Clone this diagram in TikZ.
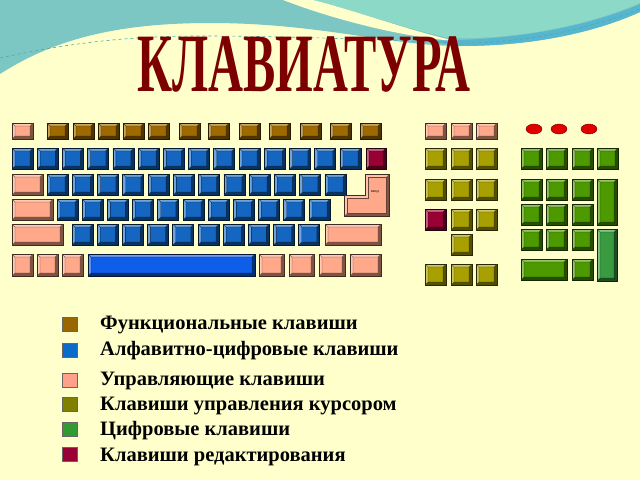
\documentclass[tikz,border=0pt]{standalone}
\usepackage{fontspec}
\setmainfont{Liberation Serif}
\usetikzlibrary{calc}
\definecolor{bgcream}{HTML}{FFFFCC}
\definecolor{tealA}{HTML}{7CC6C4}
\definecolor{tealB}{HTML}{8DD9C8}
\definecolor{bandcol}{HTML}{56B6CE}
\definecolor{dashcol}{HTML}{4FA6B0}
\definecolor{titlered}{HTML}{7D0000}
\definecolor{fncol}{HTML}{9E6A00}
\definecolor{alnum}{HTML}{1566C0}
\definecolor{spacecol}{HTML}{0E5EEA}
\definecolor{ctrl}{HTML}{FFA98A}
\definecolor{curs}{HTML}{A8A000}
\definecolor{numcol}{HTML}{4C9A00}
\definecolor{nument}{HTML}{3A9A40}
\definecolor{editcol}{HTML}{990033}
\definecolor{ledred}{HTML}{E00000}
\definecolor{lgbrown}{HTML}{996600}
\definecolor{lgblue}{HTML}{0A6CC8}
\definecolor{lgpink}{HTML}{FFA08A}
\definecolor{lgolive}{HTML}{808000}
\definecolor{lggreen}{HTML}{339933}
\definecolor{lgred}{HTML}{990033}
\newcommand\kbk[5]{%
\fill[#5!50!black] (#1,#2) rectangle (#3,#4);
\fill[#5!60!white] (#1,#2) -- (#3,#2) -- (#3-3,#2+3) -- (#1+3,#2+3) -- (#1+3,#4-3) -- (#1,#4) -- cycle;
\fill[#5] (#1+3,#2+3) rectangle (#3-3,#4-3);
\draw[#5!25!black, line width=0.7] (#1,#2) rectangle (#3,#4);
\draw[#5!40!black, line width=0.35] (#1+3,#2+3) rectangle (#3-3,#4-3)
  (#1,#2) -- (#1+3,#2+3) (#3,#2) -- (#3-3,#2+3) (#1,#4) -- (#1+3,#4-3) (#3,#4) -- (#3-3,#4-3);
}
\tikzset{legtext/.style={anchor=base west, font=\fontsize{20.5}{20.5}\selectfont\bfseries, text=black, inner sep=0pt},
 legbox/.style={draw=black!60, line width=0.5}}
\begin{document}
\begin{tikzpicture}[x=1pt,y=-1pt]
\useasboundingbox (0,0) rectangle (640,480);
\fill[bgcream] (0,0) rectangle (640,480);
% top waves
\fill[tealA] (0,0) -- (0,74) .. controls (50,42) and (110,23) .. (210,23) .. controls (320,23) and (390,46) .. (460,46) .. controls (540,46) and (600,30) .. (640,12) -- (640,0) -- cycle;
\fill[bandcol] (420,40) .. controls (520,43) and (600,22) .. (640,4) -- (640,12) .. controls (600,30) and (540,46) .. (460,46) -- cycle;
\fill[tealB] (313,0) .. controls (360,12) and (410,30) .. (450,38) .. controls (530,40) and (600,20) .. (640,3) -- (640,0) -- cycle;
\fill[bgcream] (283,0) .. controls (340,22) and (410,38) .. (456,41) .. controls (410,31) and (360,12) .. (313,0) -- cycle;
\draw[dashcol, dashed, line width=0.6] (0,58) .. controls (60,45) and (120,36) .. (200,36) .. controls (300,36) and (400,41) .. (460,43) .. controls (540,43) and (600,24) .. (640,9);
% title
\node[text=titlered, font=\fontsize{83}{83}\selectfont\bfseries, inner sep=0pt] (title) at (304,65) {\scalebox{0.583}[1]{КЛАВИАТУРА}};
% ---- main block
% row 0
\kbk{12}{123}{33}{139}{ctrl}
\foreach \x in {47,73,98,123,148,179,208,239,269,300,330,360}{\pgfmathsetmacro\xb{\x+21}\kbk{\x}{123}{\xb}{139}{fncol}}
% row 1
\foreach \k in {0,...,13}{\pgfmathsetmacro\xa{12+25.23*\k}\pgfmathsetmacro\xb{\xa+21}\kbk{\xa}{148}{\xb}{169}{alnum}}
\kbk{366}{148}{386}{169}{editcol}
% row 2
\kbk{12}{174}{43}{195}{ctrl}
\foreach \k in {0,...,11}{\pgfmathsetmacro\xa{47+25.27*\k}\pgfmathsetmacro\xb{\xa+21}\kbk{\xa}{174}{\xb}{195}{alnum}}
% enter
\fill[ctrl!50!black] (365,174) -- (389,174) -- (389,216) -- (344,216) -- (344,195) -- (365,195) -- cycle;
\fill[ctrl!70!white] (365,174) -- (389,174) -- (386,177) -- (368,177) -- (368,198) -- (347,198) -- (347,213) -- (344,216) -- (344,195) -- (365,195) -- cycle;
\fill[ctrl] (368,177) -- (386,177) -- (386,213) -- (347,213) -- (347,198) -- (368,198) -- cycle;
\draw[ctrl!25!black, line width=0.7] (365,174) -- (389,174) -- (389,216) -- (344,216) -- (344,195) -- (365,195) -- cycle;
\draw[ctrl!40!black, line width=0.35] (368,177) -- (386,177) -- (386,213) -- (347,213) -- (347,198) -- (368,198) -- cycle;
\node[font=\fontsize{4}{4}\selectfont, inner sep=0pt] (entertext) at (375,192) {ввод};
% row 3
\kbk{12}{199}{53}{220}{ctrl}
\foreach \k in {0,...,10}{\pgfmathsetmacro\xa{57+25.2*\k}\pgfmathsetmacro\xb{\xa+21}\kbk{\xa}{199}{\xb}{220}{alnum}}
% row 4
\kbk{12}{224}{63}{245}{ctrl}
\foreach \k in {0,...,9}{\pgfmathsetmacro\xa{72+25.2*\k}\pgfmathsetmacro\xb{\xa+21}\kbk{\xa}{224}{\xb}{245}{alnum}}
\kbk{325}{224}{381}{245}{ctrl}
% row 5
\foreach \x in {12,37,62}{\pgfmathsetmacro\xb{\x+21}\kbk{\x}{254}{\xb}{276}{ctrl}}
\kbk{88}{254}{255}{276}{spacecol}
\kbk{259}{254}{284}{276}{ctrl}
\kbk{289}{254}{314}{276}{ctrl}
\kbk{319}{254}{345}{276}{ctrl}
\kbk{350}{254}{381}{276}{ctrl}
% ---- cursor block
\foreach \x in {425,451,476}{\pgfmathsetmacro\xb{\x+21}\kbk{\x}{123}{\xb}{139}{ctrl}}
\foreach \x in {425,451,476}{\pgfmathsetmacro\xb{\x+21}
  \kbk{\x}{148}{\xb}{169}{curs}
  \kbk{\x}{179}{\xb}{200}{curs}
  \kbk{\x}{264}{\xb}{285}{curs}}
\kbk{425}{209}{446}{230}{editcol}
\kbk{451}{209}{472}{230}{curs}
\kbk{476}{209}{497}{230}{curs}
\kbk{451}{234}{472}{255}{curs}
% ---- LEDs
\foreach \x in {534,559,589}{\fill[ledred, draw=ledred!60!black, line width=0.4] (\x,129) ellipse [x radius=8, y radius=5];}
% ---- numpad
\foreach \x in {521,546,572,597}{\pgfmathsetmacro\xb{\x+21}\kbk{\x}{148}{\xb}{169}{numcol}}
\foreach \x in {521,546,572}{\pgfmathsetmacro\xb{\x+21}
  \kbk{\x}{179}{\xb}{200}{numcol}
  \kbk{\x}{204}{\xb}{225}{numcol}
  \kbk{\x}{229}{\xb}{250}{numcol}}
\kbk{597}{179}{617}{225}{numcol}
\kbk{597}{229}{617}{281}{nument}
\kbk{521}{259}{567}{280}{numcol}
\kbk{572}{259}{593}{280}{numcol}
% ---- legend
\fill[lgbrown, legbox] (62,317) rectangle (77,331);
\fill[lgblue, legbox] (62,343) rectangle (77,357);
\fill[lgpink, legbox] (62,373) rectangle (77,387);
\fill[lgolive, legbox] (62,397) rectangle (77,411);
\fill[lggreen, legbox] (62,422) rectangle (77,436);
\fill[lgred, legbox] (62,447) rectangle (77,461);
\node[legtext] (l1) at (100,329) {Функциональные клавиши};
\node[legtext] (l2) at (100,355) {Алфавитно-цифровые клавиши};
\node[legtext] (l3) at (100,385) {Управляющие клавиши};
\node[legtext] (l4) at (100,410) {Клавиши управления курсором};
\node[legtext] (l5) at (100,435) {Цифровые клавиши};
\node[legtext] (l6) at (100,461) {Клавиши редактирования};
\end{tikzpicture}
\end{document}
